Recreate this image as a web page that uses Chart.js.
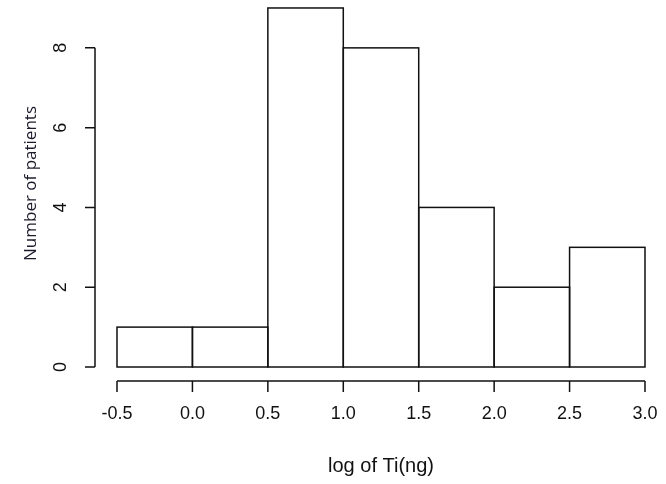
<!DOCTYPE html>
<html>
<head>
<meta charset="utf-8">
<script src="https://cdn.jsdelivr.net/npm/chart.js@4.4.1/dist/chart.umd.min.js"></script>
<style>
  html, body { margin: 0; padding: 0; background: #fff; }
  #wrap { position: relative; width: 666px; height: 484px; }
</style>
</head>
<body>
<div id="wrap"><canvas id="c" width="666" height="484"></canvas></div>
<script>
// Histogram data
const binEdges = [-0.5, 0.0, 0.5, 1.0, 1.5, 2.0, 2.5, 3.0];
const binMids = [-0.25, 0.25, 0.75, 1.25, 1.75, 2.25, 2.75];
const counts = [1, 1, 9, 8, 4, 2, 3];
const xTickLabels = ['-0.5', '0.0', '0.5', '1.0', '1.5', '2.0', '2.5', '3.0'];
const yTickValues = [0, 2, 4, 6, 8];
const yTickLabels = ['0', '2', '4', '6', '8'];
const xTitle = 'log of Ti(ng)';
const yTitle = 'Number of patients';

const INK = '#111';

const rAxesPlugin = {
  id: 'rAxes',
  afterDatasetsDraw(chart) {
    const ctx = chart.ctx;
    const xs = chart.scales.x, ys = chart.scales.y;
    const area = chart.chartArea;
    ctx.save();
    ctx.strokeStyle = INK;
    ctx.lineWidth = 1.5;
    ctx.lineCap = 'butt';
    // bar outlines centered on edges (R style rect)
    const meta = chart.getDatasetMeta(0);
    meta.data.forEach(bar => {
      const p = bar.getProps(['x', 'y', 'base', 'width'], true);
      ctx.strokeRect(p.x - p.width / 2, p.y, p.width, p.base - p.y);
    });
    // y axis (R style, detached)
    const ax = area.left - 22;
    const y0 = ys.getPixelForValue(yTickValues[0]);
    const y1 = ys.getPixelForValue(yTickValues[yTickValues.length - 1]);
    ctx.beginPath();
    ctx.moveTo(ax, y0); ctx.lineTo(ax, y1);
    yTickValues.forEach(v => {
      const py = ys.getPixelForValue(v);
      ctx.moveTo(ax, py); ctx.lineTo(ax - 10, py);
    });
    ctx.stroke();
    // x axis
    const ay = area.bottom + 14;
    const x0 = xs.getPixelForValue(binEdges[0]);
    const x1 = xs.getPixelForValue(binEdges[binEdges.length - 1]);
    ctx.beginPath();
    ctx.moveTo(x0, ay); ctx.lineTo(x1, ay);
    binEdges.forEach(v => {
      const px = xs.getPixelForValue(v);
      ctx.moveTo(px, ay); ctx.lineTo(px, ay + 11);
    });
    ctx.stroke();
    ctx.restore();
  }
};

new Chart(document.getElementById('c'), {
  type: 'bar',
  data: {
    datasets: [{
      data: binMids.map((x, i) => ({ x: x, y: counts[i] })),
      backgroundColor: '#ffffff',
      borderWidth: 0,
      barPercentage: 1.0,
      categoryPercentage: 1.0
    }]
  },
  options: {
    responsive: false,
    animation: false,
    devicePixelRatio: 1,
    layout: { padding: { left: 0, right: 21, top: 0, bottom: 0 } },
    plugins: { legend: { display: false }, tooltip: { enabled: false } },
    scales: {
      x: {
        type: 'linear',
        offset: false,
        min: -0.5,
        max: 3.0,
        afterBuildTicks: s => { s.ticks = binEdges.map(v => ({ value: v })); },
        afterFit: s => { s.height = 117; s.paddingLeft = 0; s.paddingRight = 0; },
        grid: { display: false, drawTicks: false },
        border: { display: false },
        ticks: {
          autoSkip: false,
          maxRotation: 0,
          padding: 36,
          color: INK,
          font: { family: "'Liberation Sans', Arial, sans-serif", size: 18 },
          callback: (v, i) => xTickLabels[i]
        },
        title: {
          display: true,
          text: xTitle,
          color: INK,
          font: { family: "'Liberation Sans', Arial, sans-serif", size: 20 },
          padding: { top: 0, bottom: 6 }
        }
      },
      y: {
        min: 0,
        max: 9.2,
        afterBuildTicks: s => { s.ticks = yTickValues.map(v => ({ value: v })); },
        afterFit: s => { s.width = 117; s.paddingTop = 0; s.paddingBottom = 0; },
        grid: { display: false, drawTicks: false },
        border: { display: false },
        ticks: {
          autoSkip: false,
          minRotation: 90,
          maxRotation: 90,
          crossAlign: 'center',
          padding: 51,
          color: INK,
          font: { family: "'Liberation Sans', Arial, sans-serif", size: 18 },
          callback: (v, i) => yTickLabels[i]
        },
        title: {
          display: true,
          text: yTitle,
          color: '#1a1a2a',
          font: { family: "'Open Sans', 'Noto Sans', sans-serif", size: 17 },
          padding: { top: 21, bottom: 0 }
        }
      }
    }
  },
  plugins: [rAxesPlugin]
});
</script>
</body>
</html>
